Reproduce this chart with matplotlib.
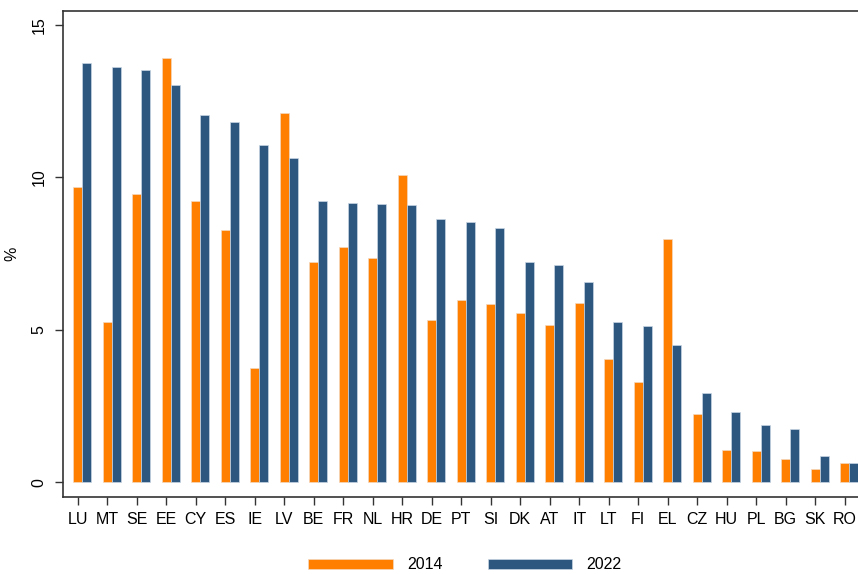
import numpy as np
import matplotlib
matplotlib.use("Agg")
import matplotlib.pyplot as plt

plt.rcParams['font.family'] = ['Liberation Sans', 'DejaVu Sans']

countries = ["LU", "MT", "SE", "EE", "CY", "ES", "IE", "LV", "BE", "FR", "NL", "HR", "DE", "PT",
             "SI", "DK", "AT", "IT", "LT", "FI", "EL", "CZ", "HU", "PL", "BG", "SK", "RO"]
y2014 = [9.68, 5.25, 9.45, 13.91, 9.23, 8.27, 3.75, 12.12, 7.23, 7.72, 7.36, 10.09, 5.33, 5.96,
         5.84, 5.55, 5.16, 5.88, 4.03, 3.28, 7.99, 2.25, 1.05, 1.03, 0.75, 0.44, 0.61]
y2022 = [13.75, 13.62, 13.52, 13.02, 12.04, 11.83, 11.05, 10.64, 9.23, 9.17, 9.13, 9.09, 8.65, 8.52,
         8.35, 7.23, 7.14, 6.55, 5.24, 5.13, 4.51, 2.92, 2.31, 1.86, 1.75, 0.87, 0.63]

orange = "#FF7F00"
navy = "#2E5780"

fig = plt.figure(figsize=(8.58, 5.74), dpi=100)
ax = fig.add_axes([63 / 858, 1 - 497 / 574, (875 - 63) / 858, (497 - 11) / 574])

x = np.arange(len(countries))
w = 0.31
ax.bar(x, y2014, width=w, color=orange, edgecolor="#f3d9bf", linewidth=0.5, label="2014")
ax.bar(x + w, y2022, width=w, color=navy, edgecolor="#c9d6e3", linewidth=0.5, label="2022")

ax.set_xlim(-0.498, 27.03)
ax.set_ylim(-0.49, 15.46)
ax.set_xticks(x)
ax.set_xticklabels(countries)
ax.set_yticks([0, 5, 10, 15])
ax.set_yticklabels(["0", "5", "10", "15"], rotation=90, va="center")
ax.tick_params(axis="both", labelsize=11.5, length=6, width=1, color="#333333", pad=5)
ax.tick_params(axis="y", pad=6)
ax.set_ylabel("%", fontsize=11.5)
ax.yaxis.set_label_coords(-0.054, 0.5)

for s in ax.spines.values():
    s.set_linewidth(1.2)
    s.set_color("#333333")

fig.legend(loc="center", bbox_to_anchor=(0.542, 0.016), ncol=2, frameon=False,
           fontsize=11.5, handlelength=5.3, handleheight=0.6, handletextpad=0.9,
           columnspacing=2.8)

fig.savefig("out.png", dpi=100)
